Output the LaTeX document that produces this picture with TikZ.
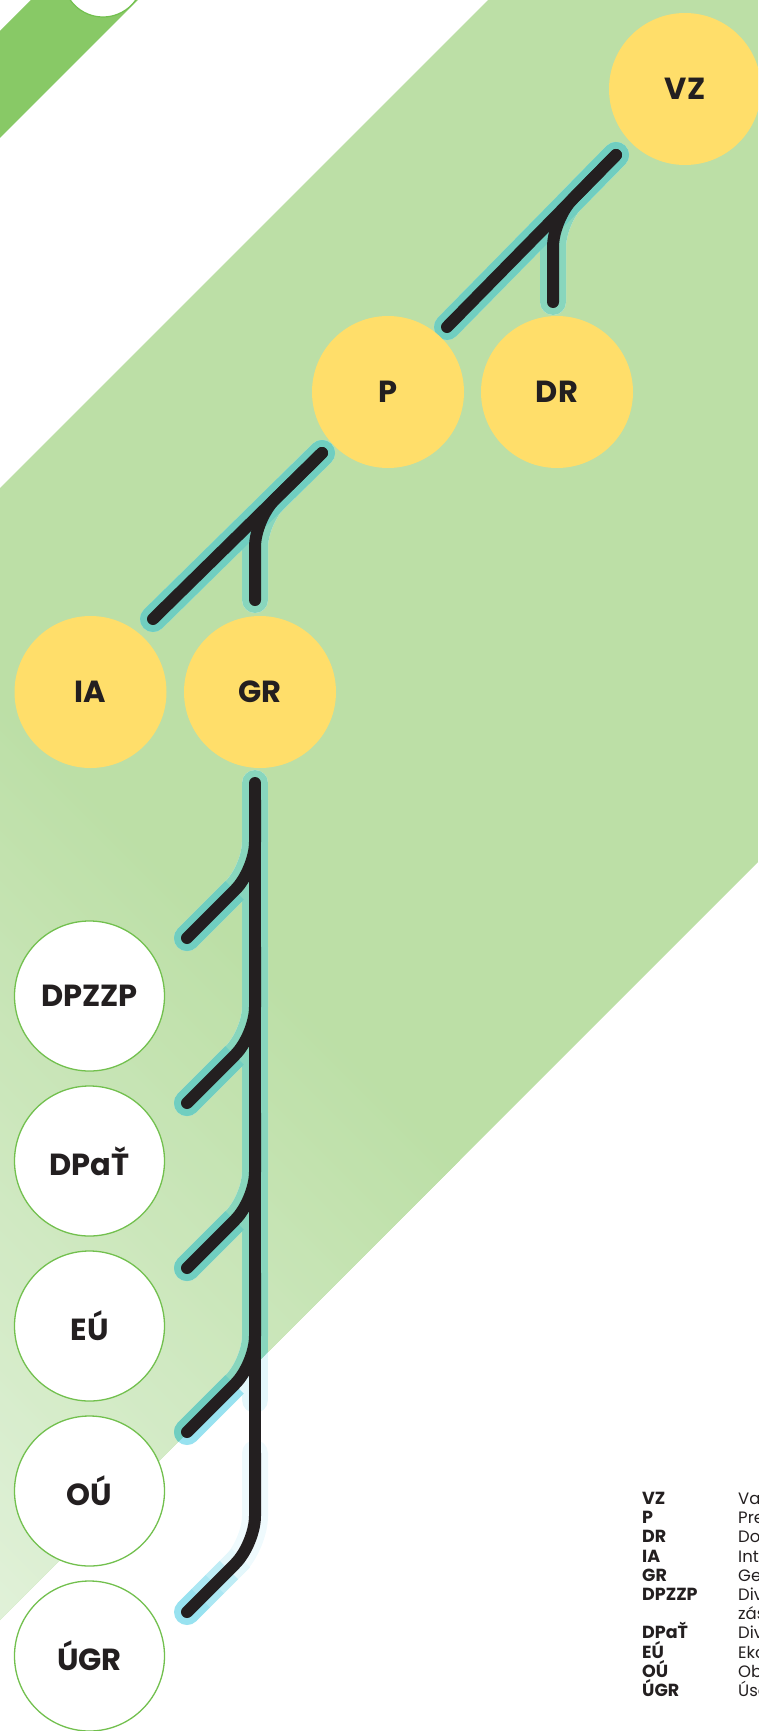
\documentclass[tikz,border=0pt]{standalone}
\usepackage{fontspec}
\setmainfont{Poppins}
\usetikzlibrary{calc}
\definecolor{bandg}{HTML}{BCDFA6}
\definecolor{bandl}{HTML}{E0F1D8}
\definecolor{darkg}{HTML}{88C966}
\definecolor{yel}{HTML}{FFDE6A}
\definecolor{ink}{HTML}{231F20}
\definecolor{ring}{HTML}{72C04E}
\definecolor{tealS}{HTML}{70CEC0}
\definecolor{tealL}{HTML}{88D6BD}
\definecolor{blueS}{HTML}{98E2F0}
\definecolor{blueL}{HTML}{E4F7FB}
\tikzset{
 yelnode/.style={circle, fill=yel, minimum size=152pt, inner sep=0pt, font=\fontsize{30.5}{30.5}\bfseries, text=ink},
 whtnode/.style={circle, fill=white, draw=ring, line width=1.3pt, minimum size=150pt, inner sep=0pt, font=\fontsize{30.5}{30.5}\bfseries, text=ink},
 blk/.style={draw=ink, line width=12pt, line cap=round, rounded corners=28pt},
 halo/.style={line width=26pt, line cap=round, rounded corners=28pt},
 halobutt/.style={line width=26pt, line cap=butt},
 abbr/.style={anchor=base west, font=\fontsize{17.5}{17.5}\bfseries, text=ink, inner sep=0pt},
 desc/.style={anchor=base west, font=\fontsize{16.5}{16.5}\selectfont, text=ink, inner sep=0pt},
}
\newcommand\drawhalos[2]{%
  \draw[halo, draw=#2] (vzA) -- (drK) -- (drE);
  \draw[halo, draw=#1] (vzA) -- (vzB);
  \draw[halo, draw=#2] (pA) -- (grK) -- (grE);
  \draw[halo, draw=#1] (pA) -- (pB);
  \draw[halo, draw=#2] (trT) -- (trH);
  \foreach \k in {1,2,3,4}{%
    \draw[halo, draw=#2] (s\k) -- (c\k) -- (e\k);
    \draw[halobutt, draw=#1] ($(c\k)!0.3!(e\k)$) -- (e\k);
    \fill[#1] (e\k) circle[radius=13pt];
  }%
}
\begin{document}
\begin{tikzpicture}[x=1pt,y=-1pt]
\useasboundingbox (0,0) rectangle (758,1731);
\clip (0,0) rectangle (758,1731);
% top-left band and circle
\fill[darkg] (31,0) -- (138,0) -- (0,138) -- (0,31) -- cycle;
\draw[fill=white, draw=ring, line width=1.2pt] (103,-23) circle[radius=40pt];
% main band with gradient
\begin{scope}
\clip (488,0) -- (758,0) -- (758,862) -- (0,1620) -- (0,488) -- cycle;
\fill[bandg] (0,0) rectangle (758,1731);
\foreach \s in {700,710,...,1690}{%
  \pgfmathtruncatemacro\f{min(100,max(0,(\s+5-700)/9))}
  \fill[bandl!\f!bandg] (0,\s) -- (758,\s+758) -- (758,\s+769) -- (0,\s+11) -- cycle;
}
\end{scope}
% connector coordinates
\coordinate (vzA) at (616,155);
\coordinate (vzB) at (447,327);
\coordinate (drK) at (553,219);
\coordinate (drE) at (553,302);
\coordinate (pA) at (322,453);
\coordinate (pB) at (153,619);
\coordinate (grK) at (255,519);
\coordinate (grE) at (255,600);
\coordinate (trT) at (255,783);
\coordinate (trH) at (255,1400);
\coordinate (trB) at (255,1460);
\coordinate (s1) at (255,800);  \coordinate (c1) at (255,870);  \coordinate (e1) at (187,938);
\coordinate (s2) at (255,947);  \coordinate (c2) at (255,1035); \coordinate (e2) at (187,1103);
\coordinate (s3) at (255,1113); \coordinate (c3) at (255,1200); \coordinate (e3) at (187,1268);
\coordinate (s4) at (255,1273); \coordinate (c4) at (255,1364); \coordinate (e4) at (187,1432);
\coordinate (s5) at (255,1453); \coordinate (c5) at (255,1544); \coordinate (e5) at (187,1612);
% halos outside the band
\drawhalos{blueS}{blueL}
\draw[halo, draw=blueL!60!white] (s5) -- (c5) -- (e5);
\draw[halobutt, draw=blueL] (c5) ++(-14,14) -- ++(-12,12);
\draw[halobutt, draw=blueS!50!blueL] (c5) ++(-26,26) -- ++(-14,14);
\draw[halobutt, draw=blueS!75!blueL] (c5) ++(-40,40) -- ++(-14,14);
\draw[halobutt, draw=blueS] (c5) ++(-54,54) -- (e5);
\fill[blueS] (e5) circle[radius=13pt];
% halos inside the band
\begin{scope}
\clip (488,0) -- (758,0) -- (758,862) -- (0,1620) -- (0,488) -- cycle;
\drawhalos{tealS}{tealL}
\end{scope}
% black connectors
\draw[blk] (vzA) -- (vzB);
\draw[blk] (vzA) -- (drK) -- (drE);
\draw[blk] (pA) -- (pB);
\draw[blk] (pA) -- (grK) -- (grE);
\draw[blk] (trT) -- (trB);
\foreach \k in {1,2,3,4,5}{\draw[blk] (s\k) -- (c\k) -- (e\k);}
% nodes
\node[yelnode] (VZ) at (685,89) {VZ};
\node[yelnode] (P) at (388,392) {P};
\node[yelnode] (DR) at (557,392) {DR};
\node[yelnode] (IA) at (90.5,692) {IA};
\node[yelnode] (GR) at (260,692) {GR};
\node[whtnode] (DPZZP) at (89.5,996) {DPZZP};
\node[whtnode] (DPaT) at (89.5,1161) {DPaŤ};
\node[whtnode] (EU) at (89.5,1326) {EÚ};
\node[whtnode] (OU) at (89.5,1491) {OÚ};
\node[whtnode] (UGR) at (89.5,1656) {ÚGR};
% legend
\node[abbr] (lVZ) at (642,1504.5) {VZ};
\node[abbr] (lP) at (642,1523.7) {P};
\node[abbr] (lDR) at (642,1542.9) {DR};
\node[abbr] (lIA) at (642,1562.1) {IA};
\node[abbr] (lGR) at (642,1581.3) {GR};
\node[abbr] (lDPZZP) at (642,1600.5) {DPZZP};
\node[abbr] (lDPaT) at (642,1638.9) {DPaŤ};
\node[abbr] (lEU) at (642,1658.1) {EÚ};
\node[abbr] (lOU) at (642,1677.3) {OÚ};
\node[abbr] (lUGR) at (642,1696.5) {ÚGR};
\node[desc] (dVZ) at (738,1504.5) {Valné zhromaždenie};
\node[desc] (dP) at (738,1523.7) {Predstavenstvo};
\node[desc] (dDR) at (738,1542.9) {Dozorná rada};
\node[desc] (dIA) at (738,1562.1) {Interný audit};
\node[desc] (dGR) at (738,1581.3) {Generálny riaditeľ};
\node[desc] (dDPZZP) at (738,1600.5) {Divízia podzemných};
\node[desc] (dDPZZPb) at (738,1619.7) {zásobníkov zemného plynu};
\node[desc] (dDPaT) at (738,1638.9) {Divízia prieskumu a ťažby};
\node[desc] (dEU) at (738,1658.1) {Ekonomický úsek};
\node[desc] (dOU) at (738,1677.3) {Obchodný úsek};
\node[desc] (dUGR) at (738,1696.5) {Úsek generálneho riaditeľa};
\end{tikzpicture}
\end{document}
